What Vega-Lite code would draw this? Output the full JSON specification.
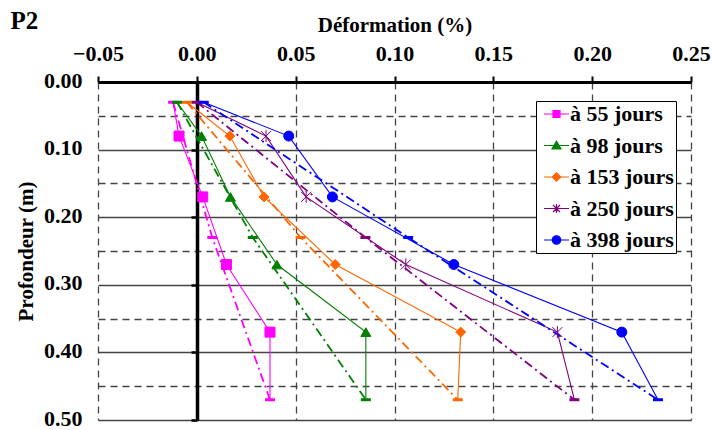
{
  "$schema": "https://vega.github.io/schema/vega-lite/v6.json",
  "width": 593,
  "height": 338,
  "autosize": {"type": "none"},
  "padding": {"left": 98, "top": 82, "right": 21, "bottom": 10},
  "title": {"text": "P2", "anchor": "start", "frame": "bounds", "font": "Liberation Serif", "fontSize": 25, "fontWeight": "bold", "color": "black", "offset": 0, "dy": 20, "dx": -5},
  "config": {"view": {"stroke": null}, "font": "Liberation Serif"},
  "datasets": {
    "pts": [
      {"s": "à 55 jours", "k": "m", "p": 0.03, "d": -0.012},
      {"s": "à 55 jours", "k": "m", "p": 0.08, "d": -0.009},
      {"s": "à 55 jours", "k": "m", "p": 0.17, "d": 0.003},
      {"s": "à 55 jours", "k": "m", "p": 0.27, "d": 0.015},
      {"s": "à 55 jours", "k": "m", "p": 0.37, "d": 0.037},
      {"s": "à 55 jours", "k": "m", "p": 0.47, "d": 0.037},
      {"s": "à 55 jours", "k": "f", "p": 0.03, "d": -0.012},
      {"s": "à 55 jours", "k": "f", "p": 0.23, "d": 0.0078},
      {"s": "à 55 jours", "k": "f", "p": 0.47, "d": 0.037},
      {"s": "à 98 jours", "k": "m", "p": 0.03, "d": -0.010},
      {"s": "à 98 jours", "k": "m", "p": 0.08, "d": 0.0024},
      {"s": "à 98 jours", "k": "m", "p": 0.17, "d": 0.017},
      {"s": "à 98 jours", "k": "m", "p": 0.27, "d": 0.0405},
      {"s": "à 98 jours", "k": "m", "p": 0.37, "d": 0.0855},
      {"s": "à 98 jours", "k": "m", "p": 0.47, "d": 0.0855},
      {"s": "à 98 jours", "k": "f", "p": 0.03, "d": -0.010},
      {"s": "à 98 jours", "k": "f", "p": 0.23, "d": 0.0283},
      {"s": "à 98 jours", "k": "f", "p": 0.47, "d": 0.0855},
      {"s": "à 153 jours", "k": "m", "p": 0.03, "d": -0.005},
      {"s": "à 153 jours", "k": "m", "p": 0.08, "d": 0.0167},
      {"s": "à 153 jours", "k": "m", "p": 0.17, "d": 0.034},
      {"s": "à 153 jours", "k": "m", "p": 0.27, "d": 0.070},
      {"s": "à 153 jours", "k": "m", "p": 0.37, "d": 0.1335},
      {"s": "à 153 jours", "k": "m", "p": 0.47, "d": 0.132},
      {"s": "à 153 jours", "k": "f", "p": 0.03, "d": -0.005},
      {"s": "à 153 jours", "k": "f", "p": 0.23, "d": 0.0525},
      {"s": "à 153 jours", "k": "f", "p": 0.47, "d": 0.132},
      {"s": "à 250 jours", "k": "m", "p": 0.03, "d": 0.000},
      {"s": "à 250 jours", "k": "m", "p": 0.08, "d": 0.035},
      {"s": "à 250 jours", "k": "m", "p": 0.17, "d": 0.0553},
      {"s": "à 250 jours", "k": "m", "p": 0.27, "d": 0.1057},
      {"s": "à 250 jours", "k": "m", "p": 0.37, "d": 0.1824},
      {"s": "à 250 jours", "k": "m", "p": 0.47, "d": 0.191},
      {"s": "à 250 jours", "k": "f", "p": 0.03, "d": 0.000},
      {"s": "à 250 jours", "k": "f", "p": 0.23, "d": 0.0853},
      {"s": "à 250 jours", "k": "f", "p": 0.47, "d": 0.191},
      {"s": "à 398 jours", "k": "m", "p": 0.03, "d": 0.0035},
      {"s": "à 398 jours", "k": "m", "p": 0.08, "d": 0.0465},
      {"s": "à 398 jours", "k": "m", "p": 0.17, "d": 0.0686},
      {"s": "à 398 jours", "k": "m", "p": 0.27, "d": 0.130},
      {"s": "à 398 jours", "k": "m", "p": 0.37, "d": 0.215},
      {"s": "à 398 jours", "k": "m", "p": 0.47, "d": 0.2333},
      {"s": "à 398 jours", "k": "f", "p": 0.03, "d": 0.0035},
      {"s": "à 398 jours", "k": "f", "p": 0.23, "d": 0.1069},
      {"s": "à 398 jours", "k": "f", "p": 0.47, "d": 0.2333}
    ]
  },
  "data": {"name": "pts"},
  "resolve": {
    "scale": {"color": "independent", "stroke": "independent", "shape": "independent"},
    "axis": {"x": "independent", "y": "independent"}
  },
  "layer": [
    {
      "transform": [{"filter": "datum.k == 'm'"}],
      "mark": {"type": "line", "strokeWidth": 1.1},
      "encoding": {
        "x": {
          "field": "d", "type": "quantitative",
          "scale": {"domain": [-0.05, 0.25], "nice": false, "zero": false},
          "axis": {
            "orient": "top", "values": [-0.05, 0, 0.05, 0.1, 0.15, 0.2, 0.25], "format": ".2f",
            "labelFlush": false, "labelOverlap": false, "labelFont": "Liberation Serif", "labelFontSize": 22,
            "labelFontWeight": "bold", "labelColor": "black", "labelPadding": 11,
            "tickSize": 6, "tickWidth": 2, "tickColor": "black",
            "domainColor": "black", "domainWidth": 3,
            "grid": true, "gridDash": [7, 5], "gridColor": "#444", "gridWidth": 1.3,
            "title": "Déformation (%)", "titleFont": "Liberation Serif", "titleFontSize": 21,
            "titleFontWeight": "bold", "titleColor": "black", "titlePadding": 7
          }
        },
        "y": {
          "field": "p", "type": "quantitative",
          "scale": {"domain": [0, 0.5], "reverse": true, "nice": false, "zero": false},
          "axis": {
            "orient": "left", "values": [0, 0.05, 0.1, 0.15, 0.2, 0.25, 0.3, 0.35, 0.4, 0.45, 0.5],
            "labelExpr": "round(datum.value*100) % 10 == 0 ? format(datum.value, '.2f') : ''",
            "labelFlush": false, "labelOverlap": false, "labelFont": "Liberation Serif", "labelFontSize": 22,
            "labelFontWeight": "bold", "labelColor": "black", "labelPadding": 16, "labelOffset": -2,
            "ticks": false, "domain": false,
            "grid": true, "gridColor": "#444", "gridWidth": 1.3,
            "gridDash": {"condition": {"test": "round(datum.value*100) % 10 == 0", "value": [1, 0]}, "value": [7, 5]},
            "title": "Profondeur (m)", "titleFont": "Liberation Serif", "titleFontSize": 21,
            "titleFontWeight": "bold", "titleColor": "black", "titlePadding": 7
          }
        },
        "color": {
          "field": "s", "type": "nominal", "legend": null,
          "scale": {"domain": ["à 55 jours", "à 98 jours", "à 153 jours", "à 250 jours", "à 398 jours"], "range": ["#ff00ff", "#008000", "#ff6600", "#800080", "#0000ff"]}
        },
        "order": {"field": "p"}
      }
    },
    {
      "transform": [{"filter": "datum.k == 'f'"}],
      "mark": {"type": "line", "strokeWidth": 1.8, "strokeDash": [9, 4, 2, 4]},
      "encoding": {
        "x": {"field": "d", "type": "quantitative", "axis": null},
        "y": {"field": "p", "type": "quantitative", "axis": null},
        "color": {
          "field": "s", "type": "nominal", "legend": null,
          "scale": {"domain": ["à 55 jours", "à 98 jours", "à 153 jours", "à 250 jours", "à 398 jours"], "range": ["#ff00ff", "#008000", "#ff6600", "#800080", "#0000ff"]}
        },
        "order": {"field": "p"}
      }
    },
    {
      "transform": [{"filter": "datum.k == 'f'"}],
      "mark": {"type": "point", "filled": true, "opacity": 1, "size": 100, "strokeWidth": 0, "shape": "M -1 -0.3 L 1 -0.3 L 1 0.3 L -1 0.3 Z"},
      "encoding": {
        "x": {"field": "d", "type": "quantitative", "axis": null},
        "y": {"field": "p", "type": "quantitative", "axis": null},
        "color": {
          "field": "s", "type": "nominal", "legend": null,
          "scale": {"domain": ["à 55 jours", "à 98 jours", "à 153 jours", "à 250 jours", "à 398 jours"], "range": ["#ff00ff", "#008000", "#ff6600", "#800080", "#0000ff"]}
        }
      }
    },
    {
      "transform": [{"filter": "datum.k == 'm' && datum.p > 0.05 && datum.p < 0.45"}],
      "mark": {"type": "point", "filled": true, "opacity": 1, "size": 100, "strokeWidth": 1},
      "encoding": {
        "x": {"field": "d", "type": "quantitative", "axis": null},
        "y": {"field": "p", "type": "quantitative", "axis": null},
        "color": {
          "field": "s", "type": "nominal", "legend": null,
          "scale": {"domain": ["à 55 jours", "à 98 jours", "à 153 jours", "à 250 jours", "à 398 jours"], "range": ["#ff00ff", "#008000", "#ff6600", "#800080", "#0000ff"]}
        },
        "stroke": {
          "field": "s", "type": "nominal", "legend": null,
          "scale": {"domain": ["à 55 jours", "à 98 jours", "à 153 jours", "à 250 jours", "à 398 jours"], "range": ["#ff00ff", "#008000", "#ff6600", "#800080", "#0000ff"]}
        },
        "shape": {
          "field": "s", "type": "nominal", "legend": null,
          "scale": {"domain": ["à 55 jours", "à 98 jours", "à 153 jours", "à 250 jours", "à 398 jours"], "range": ["square", "triangle-up", "diamond", "M -1 -1 L 1 1 M -1 1 L 1 -1 M 0 -1.2 L 0 1.2", "circle"]}
        }
      }
    },
    {
      "transform": [{"filter": "datum.k == 'm' && datum.p == 0.08"}],
      "mark": {"type": "point", "filled": true, "opacity": 0, "size": 100, "strokeWidth": 1.2},
      "encoding": {
        "x": {"field": "d", "type": "quantitative", "axis": null},
        "y": {
          "field": "p", "type": "quantitative",
          "axis": {
            "orient": "left", "offset": -99, "values": [0.1, 0.2, 0.3, 0.4, 0.5], "labels": false, "title": null,
            "grid": false, "domain": true, "domainColor": "black", "domainWidth": 3.5,
            "ticks": true, "tickSize": 6, "tickWidth": 2.5, "tickColor": "black"
          }
        },
        "color": {
          "field": "s", "type": "nominal",
          "scale": {"domain": ["à 55 jours", "à 98 jours", "à 153 jours", "à 250 jours", "à 398 jours"], "range": ["#ff00ff", "#008000", "#ff6600", "#800080", "#0000ff"]},
          "legend": {"orient": "none", "legendX": 438, "legendY": 19, "title": null, "padding": 2, "columnPadding": 0, "fillColor": "white", "strokeColor": "black", "labelFont": "Liberation Serif", "labelFontSize": 22, "labelFontWeight": "bold", "labelColor": "black", "labelOffset": 10, "rowPadding": 9.5, "symbolSize": 100, "symbolStrokeWidth": 1.2, "symbolOpacity": 1, "symbolFillColor": "black", "symbolStrokeColor": "black", "labelLimit": 300}
        },
        "stroke": {
          "field": "s", "type": "nominal",
          "scale": {"domain": ["à 55 jours", "à 98 jours", "à 153 jours", "à 250 jours", "à 398 jours"], "range": ["#ff00ff", "#008000", "#ff6600", "#800080", "#0000ff"]},
          "legend": {"orient": "none", "legendX": 438, "legendY": 19, "title": null, "padding": 2, "columnPadding": 0, "fillColor": "white", "strokeColor": "black", "labelFont": "Liberation Serif", "labelFontSize": 22, "labelFontWeight": "bold", "labelColor": "black", "labelOffset": 10, "rowPadding": 9.5, "symbolSize": 100, "symbolStrokeWidth": 1.2, "symbolOpacity": 1, "symbolFillColor": "black", "symbolStrokeColor": "black", "labelLimit": 300}
        },
        "shape": {
          "field": "s", "type": "nominal",
          "scale": {"domain": ["à 55 jours", "à 98 jours", "à 153 jours", "à 250 jours", "à 398 jours"], "range": [
            "M -1 0 L 4 0 M 0.8 -0.7 L 2.2 -0.7 L 2.2 0.7 L 0.8 0.7 Z",
            "M -1 0 L 4 0 M 1.5 -0.85 L 2.4 0.7 L 0.6 0.7 Z",
            "M -1 0 L 4 0 M 1.5 -0.85 L 2.35 0 L 1.5 0.85 L 0.65 0 Z",
            "M -1 0 L 4 0 M 0.8 -0.7 L 2.2 0.7 M 0.8 0.7 L 2.2 -0.7 M 1.5 -0.9 L 1.5 0.9",
            "M -1 0 L 4 0 M 0.65 0 A 0.85 0.85 0 1 0 2.35 0 A 0.85 0.85 0 1 0 0.65 0 Z"
          ]},
          "legend": {"orient": "none", "legendX": 438, "legendY": 19, "title": null, "padding": 2, "columnPadding": 0, "fillColor": "white", "strokeColor": "black", "labelFont": "Liberation Serif", "labelFontSize": 22, "labelFontWeight": "bold", "labelColor": "black", "labelOffset": 10, "rowPadding": 9.5, "symbolSize": 100, "symbolStrokeWidth": 1.2, "symbolOpacity": 1, "symbolFillColor": "black", "symbolStrokeColor": "black", "labelLimit": 300}
        }
      }
    }
  ]
}
